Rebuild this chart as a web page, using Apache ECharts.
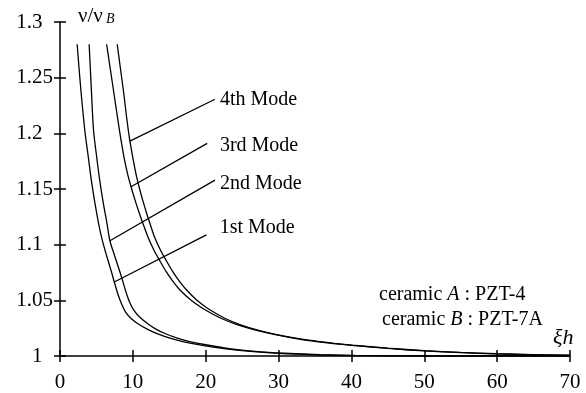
<!DOCTYPE html>
<html><head><meta charset="utf-8">
<script src="https://cdn.jsdelivr.net/npm/echarts@6.0.0/dist/echarts.min.js"></script>
<style>html,body{margin:0;padding:0;background:#fff}#c{width:586px;height:393px}</style>
</head><body><div id="c"></div>
<script>
// ---- data (x = ξh, y = ν/ν_B) ----
const xTicks = [0, 10, 20, 30, 40, 50, 60, 70];
const yTickLabels = ['1', '1.05', '1.1', '1.15', '1.2', '1.25', '1.3'];
const mode1 = [[2.35,1.28],[2.85,1.24],[3.4,1.203],[3.9,1.178],[4.3,1.158],[4.8,1.137],[5.3,1.119],[5.8,1.104],[6.4,1.09],[7.0,1.077],[7.45,1.0665],[8.0,1.0545],[8.5,1.046],[9.0,1.0395],[9.8,1.0335],[10.8,1.0285],[12.1,1.0237],[13.5,1.0196],[15.1,1.016],[17.0,1.0127],[19.2,1.0099],[22.5,1.0066],[26.1,1.0041],[30,1.0024],[35,1.0011],[40,1.0004],[45,1.0001],[50,1.0],[70,1.0]];
const mode2 = [[4.0,1.28],[4.3,1.24],[4.6,1.203],[5.05,1.178],[5.45,1.158],[5.95,1.137],[6.45,1.119],[6.85,1.1035],[7.5,1.09],[8.15,1.077],[8.6,1.0675],[9.15,1.0555],[9.65,1.047],[10.2,1.0405],[11.0,1.0345],[12.0,1.0292],[13.1,1.0244],[14.4,1.0202],[16.0,1.0163],[17.8,1.013],[20.0,1.0101],[23.2,1.0067],[26.8,1.0042],[30.8,1.0025],[35.7,1.0012],[40.5,1.0005],[45,1.0002],[50,1.0],[70,1.0]];
const mode3 = [[6.4,1.28],[6.9,1.258],[7.4,1.236],[7.9,1.214],[8.35,1.195],[8.8,1.178],[9.3,1.163],[9.75,1.152],[10.3,1.14],[10.9,1.128],[11.5,1.117],[12.1,1.1065],[12.9,1.095],[13.7,1.0855],[14.6,1.0755],[15.5,1.067],[16.5,1.059],[18.0,1.05],[19.4,1.0435],[21.0,1.0375],[22.4,1.033],[24.2,1.0285],[26.1,1.0247],[28.3,1.021],[30.6,1.0178],[33,1.015],[35.2,1.013],[37.5,1.0112],[40,1.0096],[45,1.0068],[50,1.0046],[55,1.003],[60,1.0019],[65,1.0011],[70,1.0006]];
const mode4 = [[7.85,1.28],[8.3,1.258],[8.75,1.236],[9.15,1.214],[9.55,1.195],[10.0,1.178],[10.45,1.163],[10.85,1.152],[11.35,1.14],[11.9,1.128],[12.45,1.117],[13.0,1.1065],[13.8,1.095],[14.6,1.0855],[15.5,1.0755],[16.4,1.067],[17.4,1.059],[18.8,1.05],[20.1,1.0435],[21.6,1.0375],[22.9,1.033],[24.6,1.0285],[26.4,1.0247],[28.5,1.021],[30.8,1.0178],[33.2,1.0151],[35.4,1.0131],[37.7,1.0113],[40.2,1.0097],[45,1.007],[50,1.0048],[55,1.0032],[60,1.002],[65,1.0012],[70,1.0007]];
const modeNames = ['1st Mode', '2nd Mode', '3rd Mode', '4th Mode'];
const leaderStart = [[7.45,1.0665],[6.85,1.1035],[9.75,1.152],[9.6,1.193]];
const leaderEnd = [[20.1,1.1088],[21.27,1.158],[20.2,1.191],[21.27,1.2306]];

// ---- chart ----
const FONT = '"Liberation Serif", "Times New Roman", serif';
const chart = echarts.init(document.getElementById('c'), null, {renderer: 'canvas'});
const curves = [mode1, mode2, mode3, mode4];
const labelOffsets = [[8.3, -7.4], [0, 3.6], [7.7, 2], [0, 0.3]];

const series = [];
curves.forEach((d) => {
  series.push({
    type: 'line', data: d, showSymbol: false, smooth: 0.3,
    lineStyle: {color: '#000', width: 1.3}, silent: true, animation: false, z: 3
  });
});
leaderStart.forEach((s, i) => {
  series.push({
    type: 'line', showSymbol: false, silent: true, animation: false, z: 3,
    lineStyle: {color: '#000', width: 1.3},
    data: [s, leaderEnd[i]]
  });
});
series.push({
  type: 'scatter', silent: true, animation: false, symbolSize: 0.01, z: 4,
  itemStyle: {color: '#000'},
  data: leaderEnd.map((p, i) => ({
    value: p,
    label: {show: true, position: 'right', distance: 5, offset: labelOffsets[i],
            formatter: modeNames[i], color: '#000', opacity: 1, fontFamily: FONT, fontSize: 20}
  }))
});

chart.setOption({
  animation: false,
  backgroundColor: '#fff',
  grid: {left: 60, right: 16, top: 22, bottom: 37, containLabel: false},
  xAxis: [
    {
      type: 'value', splitLine: {show: false},
      min: xTicks[0], max: xTicks[xTicks.length - 1], interval: 10, position: 'bottom',
      axisLine: {show: true, lineStyle: {color: '#000', width: 1.5}},
      axisTick: {show: true, length: 6, lineStyle: {color: '#000', width: 1.5}},
      axisLabel: {color: '#000', fontFamily: FONT, fontSize: 21, margin: 16}
    },
    {
      type: 'value', splitLine: {show: false},
      min: xTicks[0], max: xTicks[xTicks.length - 1], interval: 10, position: 'bottom',
      axisLine: {show: false},
      axisTick: {show: true, inside: true, length: 6, lineStyle: {color: '#000', width: 1.5}},
      axisLabel: {show: false}
    }
  ],
  yAxis: [
    {
      type: 'value', splitLine: {show: false},
      min: 1, max: 1.3, interval: 0.05, position: 'left',
      axisLine: {show: true, lineStyle: {color: '#000', width: 1.5}},
      axisTick: {show: true, length: 6, lineStyle: {color: '#000', width: 1.5}},
      axisLabel: {
        margin: 7,
        formatter: (v) => {
          const idx = Math.round((v - 1) / 0.05);
          const s = yTickLabels[idx];
          return s.length < 4 ? '{s|' + s + '}' : '{l|' + s + '}';
        },
        rich: {
          s: {color: '#000', fontFamily: FONT, fontSize: 21, padding: [0, 10.5, 0, 0]},
          l: {color: '#000', fontFamily: FONT, fontSize: 21}
        }
      }
    },
    {
      type: 'value', splitLine: {show: false},
      min: 1, max: 1.3, interval: 0.05, position: 'left',
      axisLine: {show: false},
      axisTick: {show: true, inside: true, length: 6, lineStyle: {color: '#000', width: 1.5}},
      axisLabel: {show: false}
    }
  ],
  series: series,
  graphic: [
    {type: 'text', left: 78, top: 6, style: {text: 'ν/ν', fill: '#000', font: '21px ' + FONT}},
    {type: 'text', left: 106, top: 12, style: {text: 'B', fill: '#000', font: 'italic 14px ' + FONT}},
    {type: 'text', left: 553, top: 327, style: {text: 'ξh', fill: '#000', font: 'italic 22px ' + FONT}},
    {type: 'text', left: 379, top: 285, style: {
      text: '{n|ceramic }{i|A}{n| : PZT-4}',
      rich: {n: {fontFamily: FONT, fontSize: 20, fill: '#000'}, i: {fontFamily: FONT, fontSize: 20, fontStyle: 'italic', fill: '#000'}}
    }},
    {type: 'text', left: 382, top: 310, style: {
      text: '{n|ceramic }{i|B}{n| : PZT-7A}',
      rich: {n: {fontFamily: FONT, fontSize: 20, fill: '#000'}, i: {fontFamily: FONT, fontSize: 20, fontStyle: 'italic', fill: '#000'}}
    }}
  ]
});
</script>
</body></html>
